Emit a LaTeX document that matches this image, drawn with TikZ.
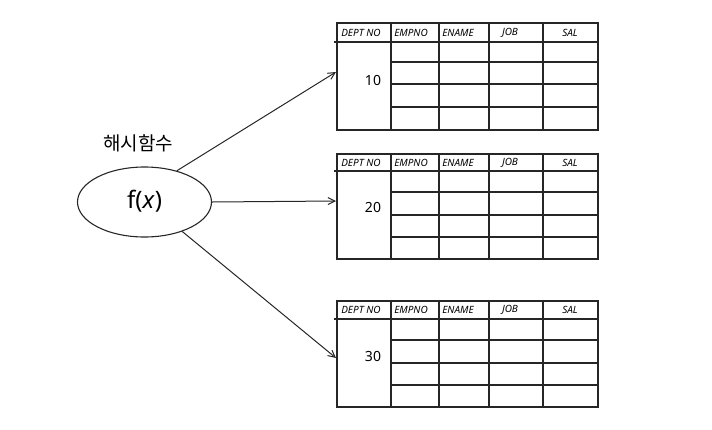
\documentclass[tikz,border=0pt]{standalone}
\usepackage{fontspec}
\setmainfont{Noto Sans}
\newfontfamily\kr{Noto Sans CJK KR}
\usetikzlibrary{arrows.meta,shapes.geometric}
\begin{document}
\begin{tikzpicture}[x=1pt,y=-1pt,
  line/.style={draw=black!85,line width=1.1pt},
  conn/.style={draw=black!85,line width=1pt,-{Straight Barb[length=7pt,width=7pt]}},
  hdr/.style={font=\fontsize{10}{11}\selectfont\itshape,inner sep=0pt},
  val/.style={font=\fontsize{14}{15}\selectfont,inner sep=0pt}]
\useasboundingbox (0,0) rectangle (712,429);
% ellipse
\node[draw=black!85,line width=1.1pt,ellipse,minimum width=134pt,minimum height=70pt,inner sep=0pt] (f) at (144.5,202) {};
\node[font=\fontsize{24}{26}\selectfont,inner sep=0pt] (fx) at (144.5,201) {f(\textit{x})};
\node[font=\kr\fontsize{19}{20}\selectfont,inner sep=0pt] (lab) at (138,143) {해시함수};
% tables
\foreach \name/\t/\h/\ra/\rb/\rc/\b/\v/\vy in {t1/23/42/62/84/107/130/10/80, t2/154/171/192/215/237/259/20/207, t3/301/319/340/363/385/407/30/356}{
  \path[line] (337,\t) rectangle (598,\b);
  \path[line] (334,\h) -- (598,\h);
  \path[line] (391,\t) -- (391,\b);
  \foreach \xx in {439,489,543}{\path[line] (\xx,\t) -- (\xx,\b);}
  \foreach \yy in {\ra,\rb,\rc}{\path[line] (391,\yy) -- (598,\yy);}
  \node[hdr] (\name h1) at (361,{(\t+\h)/2}) {DEPT NO};
  \node[hdr] (\name h2) at (411,{(\t+\h)/2}) {EMPNO};
  \node[hdr] (\name h3) at (458,{(\t+\h)/2}) {ENAME};
  \node[hdr] (\name h4) at (510,{(\t+\h)/2}) {JOB};
  \node[hdr] (\name h5) at (570,{(\t+\h)/2}) {SAL};
  \node[val] (\name v) at (373,\vy) {\v};
}
\coordinate (a1) at (336,72);
\coordinate (a2) at (336,201);
\coordinate (a3) at (336,358);
\draw[conn] (f.44) -- (a1);
\draw[conn] (f.east) -- (a2);
\draw[conn] (f.-38) -- (a3);
\end{tikzpicture}
\end{document}
